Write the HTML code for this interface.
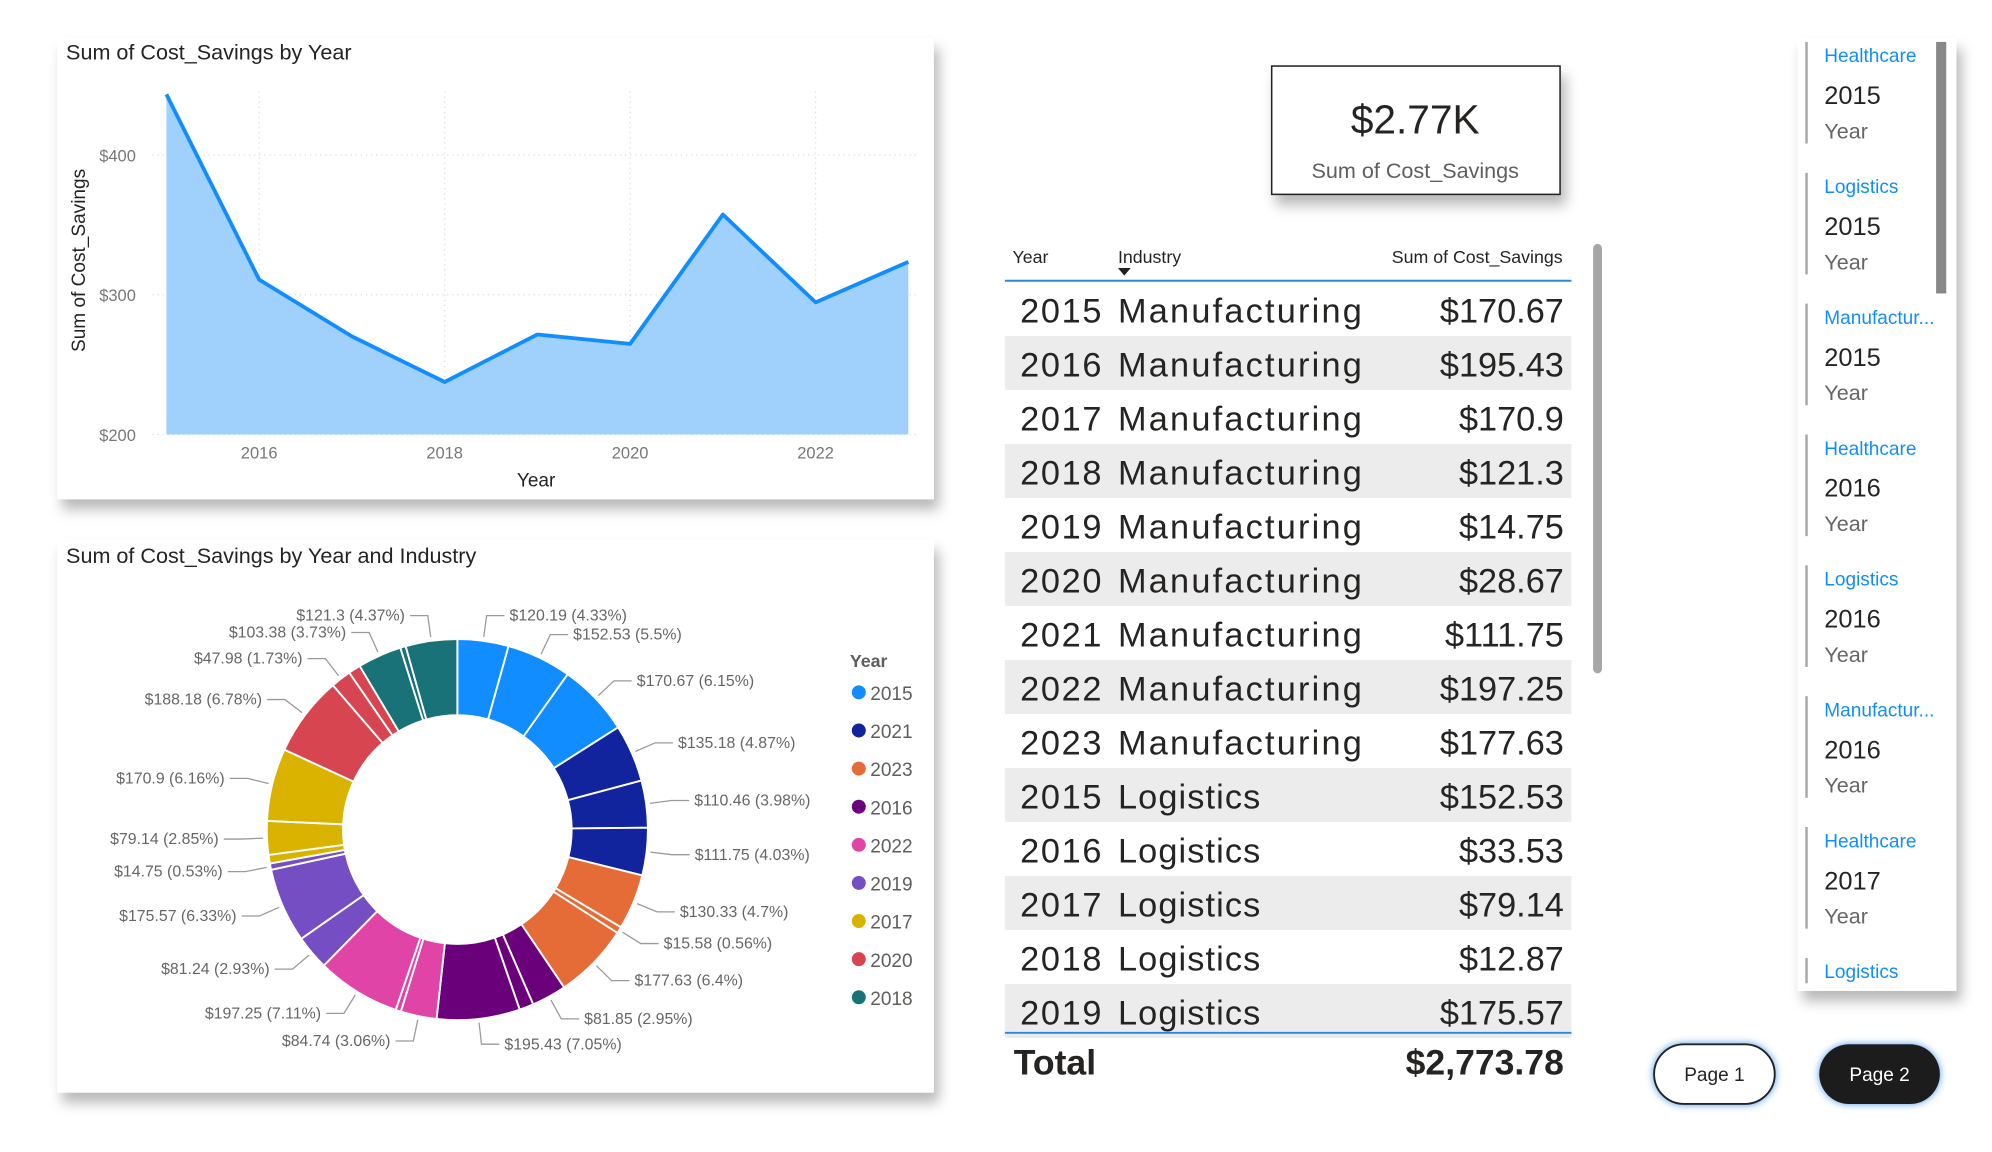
<!DOCTYPE html>
<html><head><meta charset="utf-8">
<style>
html,body{margin:0;padding:0;background:#fff;overflow:hidden}
svg{display:block;font-family:"Liberation Sans",sans-serif}
</style></head>
<body>
<svg id="root" width="1992" height="1152" viewBox="0 0 1568 906.8" preserveAspectRatio="none" xmlns="http://www.w3.org/2000/svg">
<defs>
<filter id="sh" x="-10%" y="-10%" width="130%" height="130%"><feDropShadow dx="4" dy="8" stdDeviation="5" flood-color="#000" flood-opacity="0.28"/></filter>
<filter id="glow" x="-30%" y="-30%" width="160%" height="160%"><feDropShadow dx="0" dy="0" stdDeviation="3" flood-color="#3a8ee6" flood-opacity="0.9"/></filter>
</defs>
<!-- line chart card -->
<g>
<rect x="45" y="30" width="690" height="363" fill="#fff" filter="url(#sh)"/>
<text x="52" y="47" font-size="17" fill="#252423">Sum of Cost_Savings by Year</text>
<text transform="translate(67,205) rotate(-90)" text-anchor="middle" font-size="15" fill="#252423">Sum of Cost_Savings</text>
<text x="422" y="383" text-anchor="middle" font-size="15" fill="#252423">Year</text>
<g id="lineG"></g>
</g>
<!-- donut card -->
<g>
<rect x="45" y="425" width="690" height="435" fill="#fff" filter="url(#sh)"/>
<text x="52" y="443" font-size="17" fill="#252423">Sum of Cost_Savings by Year and Industry</text>
<g id="donutG"></g>
<text x="669" y="525" font-size="14" font-weight="bold" fill="#605e5c">Year</text>
<g id="legendG"></g>
</g>
<!-- KPI card -->
<g>
<rect x="1001" y="52" width="227" height="101" fill="#fff" stroke="#222" stroke-width="1.2" filter="url(#sh)"/>
<text x="1114" y="105" text-anchor="middle" font-size="32" fill="#252423">$2.77K</text>
<text x="1114" y="140" text-anchor="middle" font-size="17" fill="#605e5c">Sum of Cost_Savings</text>
</g>
<!-- table -->
<g>
<text x="797" y="207" font-size="14" fill="#252423">Year</text>
<text x="880" y="207" font-size="14" fill="#252423">Industry</text>
<path d="M880 211 L890 211 L885 217 Z" fill="#222"/>
<text x="1230" y="207" text-anchor="end" font-size="14" fill="#252423">Sum of Cost_Savings</text>
<g id="tableG"></g>
<line x1="791" y1="221" x2="1237" y2="221" stroke="#2b88d8" stroke-width="1.5"/>
<line x1="791" y1="813" x2="1237" y2="813" stroke="#2b88d8" stroke-width="1.5"/>
<text x="798" y="846" font-size="28" font-weight="bold" fill="#252423">Total</text>
<text x="1231" y="846" text-anchor="end" font-size="28" font-weight="bold" fill="#252423">$2,773.78</text>
<rect x="1254" y="192" width="7" height="338" rx="3.5" fill="#a6a6a6"/>
</g>
<!-- slicer list -->
<g>
<rect x="1415" y="30" width="125" height="750" fill="#fff" filter="url(#sh)"/>
<g id="listG"></g>
<rect x="1524" y="33" width="8" height="198" fill="#888"/>
</g>
<!-- buttons -->
<g>
<rect x="1302" y="822" width="95" height="47" rx="23.5" fill="#fff" stroke="#222" stroke-width="1.5" filter="url(#glow)"/>
<text x="1349.5" y="851" text-anchor="middle" font-size="15" fill="#252423">Page 1</text>
</g>
<g>
<rect x="1432" y="822" width="95" height="47" rx="23.5" fill="#1f1f1f" filter="url(#glow)"/>
<text x="1479.5" y="851" text-anchor="middle" font-size="15" fill="#fff">Page 2</text>
</g>
</svg>
<script>
var NS="http://www.w3.org/2000/svg";
// ---- line chart data ----
var years=[2015,2016,2017,2018,2019,2020,2021,2022,2023];
var yearTotals=[443.39,310.81,270.2,237.55,271.56,264.83,357.39,294.5,323.54];
var yTicks=[200,300,400];
var xTicks=[2016,2018,2020,2022];
// ---- donut data ----
var sliceYears=[2015,2015,2015,2021,2021,2021,2023,2023,2023,2016,2016,2016,2022,2022,2022,2019,2019,2019,2017,2017,2017,2020,2020,2020,2018,2018,2018];
var sliceValues=[120.19,152.53,170.67,135.18,110.46,111.75,130.33,15.58,177.63,81.85,33.53,195.43,84.74,12.5,197.25,81.24,175.57,14.75,20.2,79.14,170.9,188.18,47.98,28.67,103.38,12.87,121.3];
var sliceLabeled=[1,1,1,1,1,1,1,1,1,1,0,1,1,0,1,1,1,1,0,1,1,1,1,0,1,0,1];
var legendYears=[2015,2021,2023,2016,2022,2019,2017,2020,2018];
var legendColors=["#118dff","#12239e","#e66c37","#6b007b","#e044a7","#744ec2","#d9b300","#d64550","#197278"];
// ---- table data ----
var rowYears=[2015,2016,2017,2018,2019,2020,2021,2022,2023,2015,2016,2017,2018,2019];
var rowIndustries=["Manufacturing","Manufacturing","Manufacturing","Manufacturing","Manufacturing","Manufacturing","Manufacturing","Manufacturing","Manufacturing","Logistics","Logistics","Logistics","Logistics","Logistics"];
var rowValues=["$170.67","$195.43","$170.9","$121.3","$14.75","$28.67","$111.75","$197.25","$177.63","$152.53","$33.53","$79.14","$12.87","$175.57"];
// ---- card list data ----
var listIndustries=["Healthcare","Logistics","Manufactur...","Healthcare","Logistics","Manufactur...","Healthcare","Logistics"];
var listYears=["2015","2015","2015","2016","2016","2016","2017",""];

function mk(tag,attrs,parent){var e=document.createElementNS(NS,tag);for(var k in attrs)e.setAttribute(k,attrs[k]);parent.appendChild(e);return e;}

// line chart
var lineG=document.getElementById("lineG");
function xS(y){return 131+(y-2015)*73;}
function yS(v){return 342-(v-200)*1.1;}
yTicks.forEach(function(t){
  var gl=mk("line",{x1:120,x2:722,y1:yS(t),y2:yS(t),stroke:"#ddd","stroke-dasharray":"1 3"},lineG);
  
  
  var tx=mk("text",{x:107,y:yS(t)+5,"text-anchor":"end","font-size":13,fill:"#777"},lineG);
  
  
  tx.textContent="$"+t;
});
xTicks.forEach(function(t){
  var gl=mk("line",{x1:xS(t),x2:xS(t),y1:72,y2:342,stroke:"#ddd","stroke-dasharray":"1 3"},lineG);
  
  
  var tx=mk("text",{x:xS(t),y:361,"text-anchor":"middle","font-size":13,fill:"#777"},lineG);
  
  
  tx.textContent=t;
});
var pts=years.map(function(y,i){return xS(y)+","+yS(yearTotals[i]);});
var area=mk("polygon",{points:xS(years[0])+","+yS(200)+" "+pts.join(" ")+" "+xS(years[years.length-1])+","+yS(200),fill:"#a0d1fd"},lineG);


var line=mk("polyline",{points:pts.join(" "),fill:"none",stroke:"#118dff","stroke-width":3,"stroke-linejoin":"round"},lineG);



// donut
var donutG=document.getElementById("donutG");
var cx=360,cy=653,R=150,r=90;
var total=sliceValues.reduce(function(a,b){return a+b;},0);
function colorOf(y){return legendColors[legendYears.indexOf(y)];}
function pt(rad,a){return [cx+rad*Math.sin(a),cy-rad*Math.cos(a)];}
var acc=0;
sliceValues.forEach(function(v,i){
  var a0=acc/total*2*Math.PI; acc+=v; var a1=acc/total*2*Math.PI;
  var large=(a1-a0)>Math.PI?1:0;
  var p0=pt(R,a0),p1=pt(R,a1),q1=pt(r,a1),q0=pt(r,a0);
  var d="M"+p0+" A"+R+","+R+" 0 "+large+" 1 "+p1+" L"+q1+" A"+r+","+r+" 0 "+large+" 0 "+q0+" Z";
  var s=mk("path",{d:d,fill:colorOf(sliceYears[i]),stroke:"#fff","stroke-width":1.5},donutG);
  
  
  if(sliceLabeled[i]){
    var am=(a0+a1)/2;
    var e1=pt(R+3,am),e2=pt(R+20,am);
    var right=Math.sin(am)>=0;
    var e3=[e2[0]+(right?14:-14),e2[1]];
    var ll=mk("polyline",{points:e1+" "+e2+" "+e3,fill:"none",stroke:"#999","stroke-width":1},donutG);
    
    
    var t=mk("text",{x:e3[0]+(right?4:-4),y:e3[1]+4,"text-anchor":right?"start":"end","font-size":12.5,fill:"#666"},donutG);
    
    
    var pct=(v/total*100);
    var ps=(Math.round(pct*100)/100).toString();
    t.textContent="$"+v+" ("+ps+"%)";
  }
});
var legendG=document.getElementById("legendG");
legendYears.forEach(function(y,i){
  var c=mk("circle",{cx:676,cy:545+i*30,r:5.5,fill:legendColors[i]},legendG);
  
  
  var t=mk("text",{x:685,y:551+i*30,"font-size":15,fill:"#605e5c"},legendG);
  
  
  t.textContent=y;
});

// table
var tableG=document.getElementById("tableG");
rowYears.forEach(function(y,i){
  var top=222+i*42.5;
  if(i%2==1){
    var bg=mk("rect",{x:791,y:top,width:446,height:42.5,fill:"#ececec"},tableG);
    
    
  }
  var t1=mk("text",{x:803,y:top+32,"font-size":27,fill:"#252423",textLength:64},tableG);
  
  
  t1.textContent=y;
  var t2=mk("text",{x:880,y:top+32,"font-size":27,fill:"#252423",textLength:rowIndustries[i]=="Manufacturing"?192:112},tableG);
  
  
  t2.textContent=rowIndustries[i];
  var t3=mk("text",{x:1231,y:top+32,"text-anchor":"end","font-size":27,fill:"#252423"},tableG);
  
  
  t3.textContent=rowValues[i];
});

// card list
var listG=document.getElementById("listG");
listIndustries.forEach(function(ind,i){
  var top=33+i*103;
  var last=(i==listIndustries.length-1);
  var bar=mk("rect",{x:1421,y:top,width:2,height:last?20:80,fill:"#aaa"},listG);
  
  
  var h=mk("text",{x:1436,y:top+16,"font-size":15,fill:"#118dff"},listG);
  
  
  h.textContent=ind;
  if(!last){
    var yv=mk("text",{x:1436,y:top+49,"font-size":20,fill:"#252423"},listG);
    
    
    yv.textContent=listYears[i];
    var yl=mk("text",{x:1436,y:top+76,"font-size":17,fill:"#666"},listG);
    
    
    yl.textContent="Year";
  }
});
</script>
</body></html>
